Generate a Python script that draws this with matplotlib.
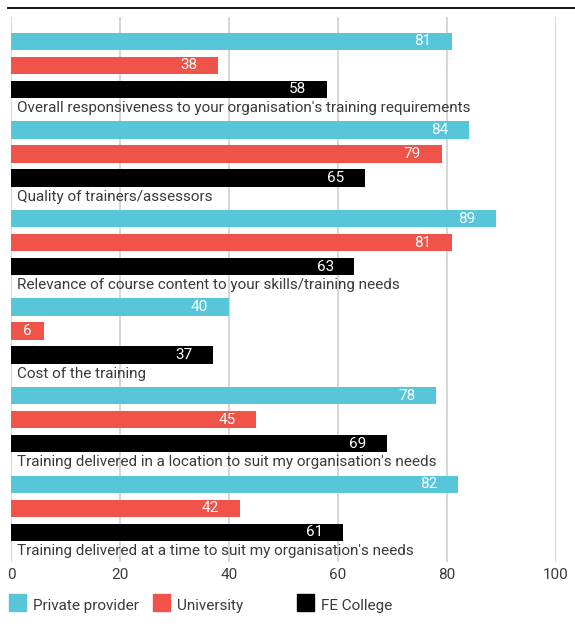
import numpy as np
import matplotlib
matplotlib.use("Agg")
import matplotlib.pyplot as plt
from matplotlib.patches import Rectangle
from matplotlib.lines import Line2D

categories = [
    "Overall responsiveness to your organisation's training requirements",
    "Quality of trainers/assessors",
    "Relevance of course content to your skills/training needs",
    "Cost of the training",
    "Training delivered in a location to suit my organisation's needs",
    "Training delivered at a time to suit my organisation's needs",
]
private_provider = [81, 84, 89, 40, 78, 82]
university = [38, 79, 81, 6, 45, 42]
fe_college = [58, 65, 63, 37, 69, 61]
series_names = ["Private provider", "University", "FE College"]
colors = ["#58c6d9", "#f0534a", "#000000"]
xticks = [0, 20, 40, 60, 80, 100]

text_color = "#3a3a3a"
plt.rcParams['font.family'] = ['Roboto', 'DejaVu Sans']
fs = 11

fig = plt.figure(figsize=(5.75, 6.33), dpi=100)
ax = fig.add_axes([11 / 575, 1 - 562 / 633, 545 / 575, 545 / 633])

group_step = 3.69
series = [private_provider, university, fe_college]
for g, cat in enumerate(categories):
    base = g * group_step
    for k, vals in enumerate(series):
        v = vals[g]
        y = base + k
        ax.barh(y, v, height=0.72, color=colors[k], zorder=3)
        # value label inside the bar end, centred for very short bars
        if v < 10:
            ax.text(v / 2, y, str(v), color="white", fontsize=fs,
                    ha="center", va="center", zorder=4)
        else:
            ax.text(v - 3.8, y, str(v), color="white", fontsize=fs,
                    ha="right", va="center", zorder=4)
    ax.text(1.1, base + 2.77, cat, color=text_color, fontsize=fs,
            ha="left", va="center", zorder=4)

ax.set_xlim(0, 100)
ax.set_ylim(21.69, -1.02)
for x in xticks:
    ax.axvline(x, color="#cfcfcf", lw=1.2, zorder=1)
ax.set_xticks(xticks)
ax.set_xticklabels([str(x) for x in xticks], color=text_color, fontsize=fs)
ax.tick_params(axis="x", length=0, pad=4)
ax.set_yticks([])
for s in ax.spines.values():
    s.set_visible(False)

# top rule
fig.add_artist(Line2D([8 / 575, 1], [1 - 8 / 633, 1 - 8 / 633],
                      color="black", lw=1.3, transform=fig.transFigure))

# legend
leg_x = [9, 153, 297]
for k, name in enumerate(series_names):
    x0 = leg_x[k]
    fig.add_artist(Rectangle((x0 / 575, 1 - 611 / 633), 17 / 575, 17 / 633,
                             color=colors[k], transform=fig.transFigure))
    fig.text((x0 + 24) / 575, 1 - 606 / 633, name, color=text_color,
             fontsize=fs, ha="left", va="center")

fig.savefig("out.png", dpi=100)
